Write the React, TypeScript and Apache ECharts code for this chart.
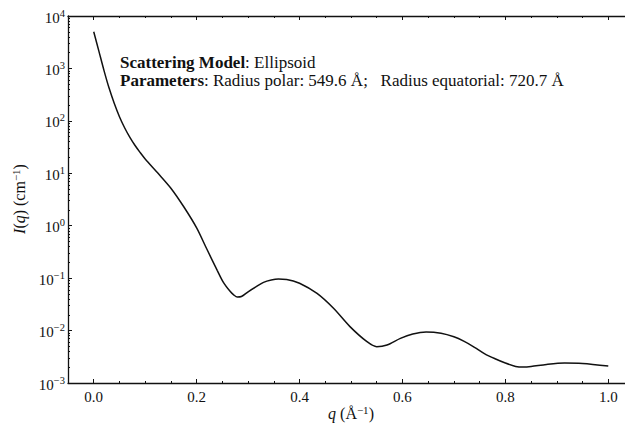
import React, { useEffect, useRef } from 'react';
import * as echarts from 'echarts';

// ---- data ----
const qValues = [
  0, 0.01, 0.02, 0.03, 0.04, 0.05, 0.06, 0.07, 0.08, 0.09, 0.1, 0.125, 0.15, 0.175, 0.2, 0.22, 0.24, 0.252,
  0.265, 0.272, 0.279, 0.287, 0.3, 0.315, 0.33, 0.345, 0.359, 0.375, 0.4, 0.434, 0.466, 0.498, 0.531, 0.55,
  0.57, 0.596, 0.62, 0.646, 0.675, 0.7, 0.72, 0.74, 0.76, 0.78, 0.8, 0.82, 0.835, 0.85, 0.88, 0.915, 0.95, 1.0,
];
const intensity = [
  5000, 2140, 910, 417, 214, 120, 74, 49, 34.3, 25.1, 18.8, 10, 5.2, 2.3, 0.91, 0.355, 0.141, 0.083,
  0.056, 0.048, 0.0437, 0.0447, 0.055, 0.068, 0.083, 0.092, 0.096, 0.0945, 0.08, 0.051, 0.0266, 0.0119, 0.00614, 0.00492,
  0.0053, 0.0071, 0.0086, 0.0094, 0.0089, 0.0076, 0.0062, 0.0048, 0.0036, 0.0029, 0.0024, 0.00207, 0.00201, 0.00206, 0.00226, 0.0024, 0.00235, 0.0021,
];

const xMajorTicks = [0, 0.2, 0.4, 0.6, 0.8, 1.0];
const xMinorTicks = [-0.05, 0.05, 0.1, 0.15, 0.25, 0.3, 0.35, 0.45, 0.5, 0.55, 0.65, 0.7, 0.75, 0.85, 0.9, 0.95, 1.05];
const yMajorTicks = [1e-3, 1e-2, 1e-1, 1, 10, 100, 1000, 10000];
const yMinorMultipliers = [2, 3, 4, 5, 6, 7, 8, 9];

const titleLine1 = '{b|Scattering Model}: Ellipsoid';
const titleLine2 = '{b|Parameters}: Radius polar: 549.6 Å;   Radius equatorial: 720.7 Å';

const FONT = '"Liberation Serif", "Times New Roman", serif';
const INK = '#111';

export default function App() {
  const ref = useRef<HTMLDivElement>(null);

  useEffect(() => {
    if (!ref.current) return;
    const chart = echarts.init(ref.current, undefined, { renderer: 'svg' });

    const yMinorTicks: number[] = [];
    for (let k = -3; k < 4; k++) {
      for (const m of yMinorMultipliers) yMinorTicks.push(+(m * Math.pow(10, k)).toPrecision(6));
    }

    const data = qValues.map((q, i) => [q, intensity[i]]);

    const supRich = {
      b: { fontFamily: FONT, fontSize: 15, color: INK, lineHeight: 17, padding: [3, 0, 0, 0] },
      s: { fontFamily: FONT, fontSize: 10.5, color: INK, lineHeight: 10, verticalAlign: 'top' as const },
    };

    const xBase = {
      type: 'value' as const,
      min: -0.05,
      max: 1.05,
      splitLine: { show: false },
      gridIndex: 0,
    };
    const yBase = {
      type: 'log' as const,
      logBase: 10,
      min: 1e-3,
      max: 1e4,
      splitLine: { show: false },
      gridIndex: 0,
    };
    const hiddenLine = { show: false, onZero: false };
    const shownLine = { show: true, onZero: false, lineStyle: { color: INK, width: 1.3 } };

    const titleStyle = (text: string) => ({
      text,
      fontFamily: FONT,
      fontSize: 17,
      lineHeight: 15,
      fill: INK,
      verticalAlign: 'middle',
      rich: { b: { fontFamily: FONT, fontSize: 17, lineHeight: 15, fontWeight: 'bold', fill: INK } },
    });

    chart.setOption({
      animation: false,
      backgroundColor: '#fff',
      grid: { left: 68, top: 16, width: 566, height: 367, outerBoundsMode: 'none', containLabel: false },
      xAxis: [
        {
          ...xBase,
          position: 'bottom',
          axisLine: shownLine,
          axisTick: { show: true, inside: true, length: 4, customValues: xMajorTicks, lineStyle: { color: INK, width: 1 } },
          axisLabel: {
            customValues: xMajorTicks,
            formatter: (v: number) => v.toFixed(1),
            margin: 6,
            fontFamily: FONT,
            fontSize: 15,
            color: INK,
          },
        },
        {
          ...xBase,
          position: 'bottom',
          axisLine: hiddenLine,
          axisTick: { show: true, inside: true, length: 2, customValues: xMinorTicks, lineStyle: { color: INK, width: 1 } },
          axisLabel: { show: false },
        },
        {
          ...xBase,
          position: 'top',
          axisLine: shownLine,
          axisTick: { show: true, inside: true, length: 4, customValues: xMajorTicks, lineStyle: { color: INK, width: 1 } },
          axisLabel: { show: false },
        },
        {
          ...xBase,
          position: 'top',
          axisLine: hiddenLine,
          axisTick: { show: true, inside: true, length: 2, customValues: xMinorTicks, lineStyle: { color: INK, width: 1 } },
          axisLabel: { show: false },
        },
      ],
      yAxis: [
        {
          ...yBase,
          position: 'left',
          axisLine: shownLine,
          axisTick: { show: true, inside: true, length: 4, customValues: yMajorTicks, lineStyle: { color: INK, width: 1 } },
          axisLabel: {
            customValues: yMajorTicks,
            margin: 3,
            formatter: (v: number) => {
              const e = Math.round(Math.log10(v));
              return '{b|10}{s|' + (e < 0 ? '\u2212' + -e : String(e)) + '}';
            },
            rich: supRich,
          },
        },
        {
          ...yBase,
          position: 'left',
          axisLine: hiddenLine,
          axisTick: { show: true, inside: true, length: 2, customValues: yMinorTicks, lineStyle: { color: INK, width: 1 } },
          axisLabel: { show: false },
        },
      ],
      series: [
        {
          type: 'line',
          xAxisIndex: 0,
          yAxisIndex: 0,
          data,
          showSymbol: false,
          smooth: 0.3,
          lineStyle: { color: INK, width: 1.5 },
        },
      ],
      graphic: [
        { type: 'text', x: 120, y: 62.5, style: titleStyle(titleLine1) },
        { type: 'text', x: 120, y: 80, style: titleStyle(titleLine2) },
        {
          type: 'text',
          x: 351,
          y: 413,
          style: {
            text: '{i|q} (Å{s|\u22121})',
            fontFamily: FONT,
            fontSize: 16,
            fill: INK,
            align: 'center',
            verticalAlign: 'middle',
            rich: {
              i: { fontFamily: FONT, fontSize: 16, fontStyle: 'italic', fill: INK, lineHeight: 18 },
              s: { fontFamily: FONT, fontSize: 11, fill: INK, lineHeight: 10, verticalAlign: 'top' },
            },
          },
        },
        {
          type: 'text',
          x: 19,
          y: 199,
          rotation: Math.PI / 2,
          style: {
            text: '{i|I}({i|q}) (cm{s|\u22121})',
            fontFamily: FONT,
            fontSize: 16,
            fill: INK,
            align: 'center',
            verticalAlign: 'middle',
            rich: {
              i: { fontFamily: FONT, fontSize: 16, fontStyle: 'italic', fill: INK, lineHeight: 18 },
              s: { fontFamily: FONT, fontSize: 11, fill: INK, lineHeight: 10, verticalAlign: 'top' },
            },
          },
        },
      ],
    });

    return () => chart.dispose();
  }, []);

  return (
    <div style={{ position: 'absolute', left: 0, top: 0, width: 625, height: 423, overflow: 'hidden', background: '#fff' }}>
      <div ref={ref} style={{ position: 'absolute', left: 0, top: 0, width: 645, height: 423 }} />
    </div>
  );
}
